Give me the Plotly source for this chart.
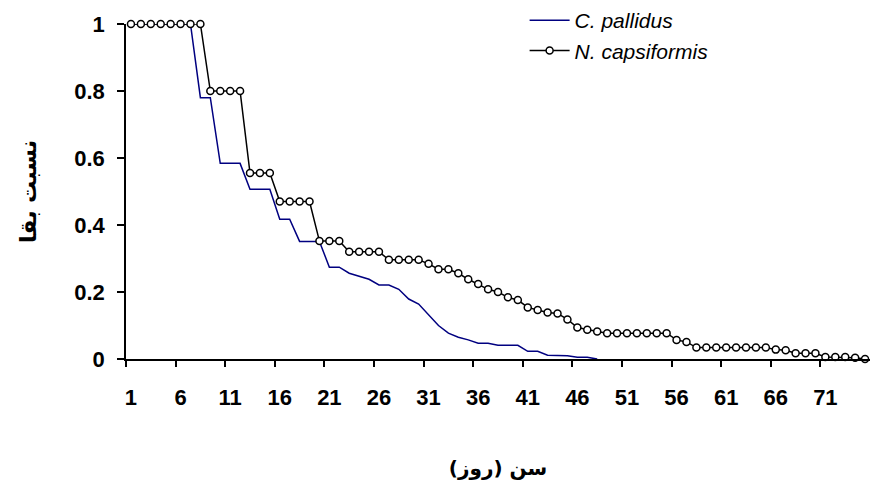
import plotly.graph_objects as go

days_capsiformis = list(range(1, 76))
surv_capsiformis = [1.0, 1.0, 1.0, 1.0, 1.0, 1.0, 1.0, 1.0,
                    0.8, 0.8, 0.8, 0.8,
                    0.555, 0.555, 0.555,
                    0.47, 0.47, 0.47, 0.47,
                    0.352, 0.352, 0.352,
                    0.32, 0.32, 0.32, 0.32,
                    0.296, 0.296, 0.296, 0.296,
                    0.284, 0.268, 0.268, 0.256, 0.238, 0.224, 0.208, 0.200, 0.184, 0.176,
                    0.154, 0.146, 0.139, 0.136, 0.118, 0.094, 0.087, 0.082, 0.077,
                    0.077, 0.077, 0.077, 0.077, 0.077, 0.077,
                    0.057, 0.051,
                    0.034, 0.034, 0.034, 0.034, 0.034, 0.034, 0.034, 0.034,
                    0.028, 0.026,
                    0.017, 0.017, 0.017,
                    0.006, 0.006, 0.006,
                    0.004, 0.0]

days_pallidus = list(range(1, 49))
surv_pallidus = [1.0, 1.0, 1.0, 1.0, 1.0, 1.0, 1.0,
                 0.78, 0.78,
                 0.584, 0.584, 0.584,
                 0.507, 0.507, 0.507,
                 0.417, 0.417,
                 0.351, 0.351, 0.351,
                 0.274, 0.274,
                 0.256, 0.246, 0.238, 0.221, 0.221, 0.208, 0.179, 0.164, 0.131, 0.100,
                 0.077, 0.065, 0.057, 0.047, 0.047, 0.041, 0.041, 0.041,
                 0.023, 0.023, 0.011, 0.011, 0.010, 0.005, 0.005, 0.0]

x_labels = [1, 6, 11, 16, 21, 26, 31, 36, 41, 46, 51, 56, 61, 66, 71]
y_ticks = [0, 0.2, 0.4, 0.6, 0.8, 1]

fig = go.Figure()
fig.add_trace(go.Scatter(
    x=days_pallidus, y=surv_pallidus, mode="lines", name="C. pallidus",
    line=dict(color="#000080", width=1.5), cliponaxis=False))
fig.add_trace(go.Scatter(
    x=days_capsiformis, y=surv_capsiformis, mode="lines+markers", name="N. capsiformis",
    line=dict(color="black", width=1.5),
    marker=dict(symbol="circle", size=7, color="white", line=dict(color="black", width=1.5)),
    cliponaxis=False))

boundaries = [v - 0.5 for v in x_labels]

fig.update_layout(
    width=870, height=481,
    margin=dict(l=126, r=0, t=24, b=122, autoexpand=False),
    paper_bgcolor="white", plot_bgcolor="white",
    font=dict(family="Liberation Sans, Arial, sans-serif", color="black"),
    showlegend=True,
    legend=dict(xref="container", yref="container", x=0.603, y=1.0,
                xanchor="left", yanchor="top",
                font=dict(size=21, style="italic", family="Liberation Sans, Arial"),
                bgcolor="rgba(0,0,0,0)", itemwidth=40, tracegroupgap=0),
    xaxis=dict(range=[0.5, 75.5], tickmode="array", tickvals=x_labels,
               ticktext=[str(v) for v in x_labels], ticks="",
               showline=True, linecolor="black", linewidth=1.5,
               showgrid=False, zeroline=False, automargin=False,
               tickfont=dict(size=22, weight="bold"), ticklabelstandoff=18,
               minor=dict(tickmode="array", tickvals=boundaries, ticks="outside",
                          ticklen=6, tickcolor="black", tickwidth=1.5, showgrid=False),
               title=dict(text="سن (روز)", font=dict(size=20, weight="bold",
                          family="DejaVu Sans, Noto Sans, sans-serif"), standoff=52)),
    yaxis=dict(range=[0, 1], tickmode="array", tickvals=y_ticks,
               ticktext=["0", "0.2", "0.4", "0.6", "0.8", "1"],
               ticks="outside", ticklen=7, tickwidth=1.5, tickcolor="black",
               showline=True, linecolor="black", linewidth=1.5,
               showgrid=False, zeroline=False, automargin=False,
               tickfont=dict(size=22, weight="bold"), ticklabelstandoff=8,
               title=dict(text="نسبت بقا", font=dict(size=22, weight="bold",
                          family="DejaVu Sans, Noto Sans, sans-serif"), standoff=32)),
)

fig.write_html("out.html", config={"displayModeBar": False},
               post_script="document.body.style.margin='0';document.body.style.overflow='hidden';")
